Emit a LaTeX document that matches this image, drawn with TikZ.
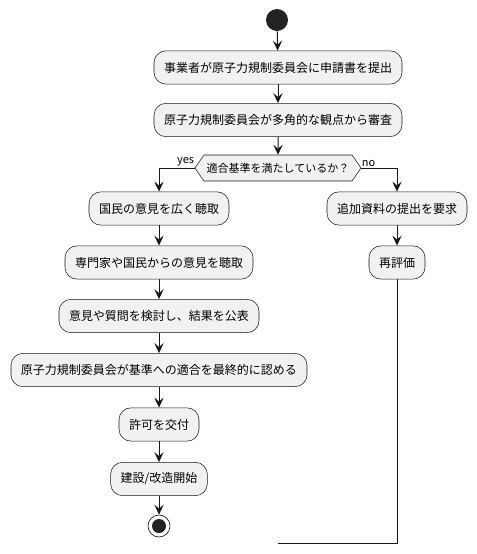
\documentclass[tikz,border=0pt]{standalone}
\usepackage{fontspec}
\setmainfont{Noto Sans CJK JP}
\usepackage{tikz}
\usetikzlibrary{arrows.meta,shapes.symbols}
\definecolor{boxfill}{HTML}{F1F1F1}
\definecolor{linecol}{HTML}{181818}
\definecolor{dotcol}{HTML}{222222}

\begin{document}
\begin{tikzpicture}[
    x=0.75pt, y=-0.75pt,
    font=\fontsize{9}{11}\selectfont,
    box/.style={
        draw=linecol,
        fill=boxfill,
        line width=0.4pt,
        rounded corners=9pt,
        align=center,
        inner xsep=7.5pt,
        minimum height=25pt
    },
    decision/.style={
        draw=linecol,
        fill=boxfill,
        line width=0.4pt,
        shape=signal,
        signal to=west and east,
        signal pointer angle=110,
        font=\fontsize{8.25}{10}\selectfont,
        inner xsep=2pt,
        minimum height=19.5pt
    },
    label/.style={font=\fontsize{8.25}{10}\selectfont, inner sep=1pt},
    arrow/.style={-{Stealth[length=7.5pt,width=7pt,inset=3pt]}, draw=linecol, line width=0.75pt},
    line/.style={draw=linecol, line width=0.75pt}
]
\useasboundingbox (0,0) rectangle (477,554);

\node[circle, fill=dotcol, minimum size=16.5pt, inner sep=0pt] (start) at (277,20) {};

\node[box] (apply) at (278,67.5) {事業者が原子力規制委員会に申請書を提出};
\node[box] (review) at (278,120) {原子力規制委員会が多角的な観点から審査};
\node[decision] (check) at (278,168) {適合基準を満たしているか？};

\node[box] (hear) at (159,208.5) {国民の意見を広く聴取};
\node[box] (experts) at (159,262.5) {専門家や国民からの意見を聴取};
\node[box] (publish) at (159,316) {意見や質問を検討し、結果を公表};
\node[box] (approve) at (159,370) {原子力規制委員会が基準への適合を最終的に認める};
\node[box] (permit) at (159,424.5) {許可を交付};
\node[box] (build) at (159,479) {建設/改造開始};

\node[circle, draw=linecol, fill=white, line width=0.5pt, minimum size=16.5pt, inner sep=0pt] (stop) at (159,526) {};
\node[circle, fill=dotcol, minimum size=10.5pt, inner sep=0pt] (stopdot) at (stop) {};

\node[box] (request) at (397,208.5) {追加資料の提出を要求};
\node[box] (reeval) at (397,262.5) {再評価};
\coordinate (loopend) at (278,543);

\draw[arrow] (start) -- (apply);
\draw[arrow] (apply) -- (review);
\draw[arrow] (review) -- (check);

\draw[arrow] (check.west) -| node[label, pos=0.0, above left, xshift=1pt] {yes} (hear);
\draw[arrow] (check.east) -| node[label, pos=0.0, above right, xshift=-1pt] {no} (request);

\draw[arrow] (hear) -- (experts);
\draw[arrow] (experts) -- (publish);
\draw[arrow] (publish) -- (approve);
\draw[arrow] (approve) -- (permit);
\draw[arrow] (permit) -- (build);
\draw[arrow] (build) -- (stop);

\draw[arrow] (request) -- (reeval);
\draw[line] (reeval) |- (loopend);

\end{tikzpicture}
\end{document}
